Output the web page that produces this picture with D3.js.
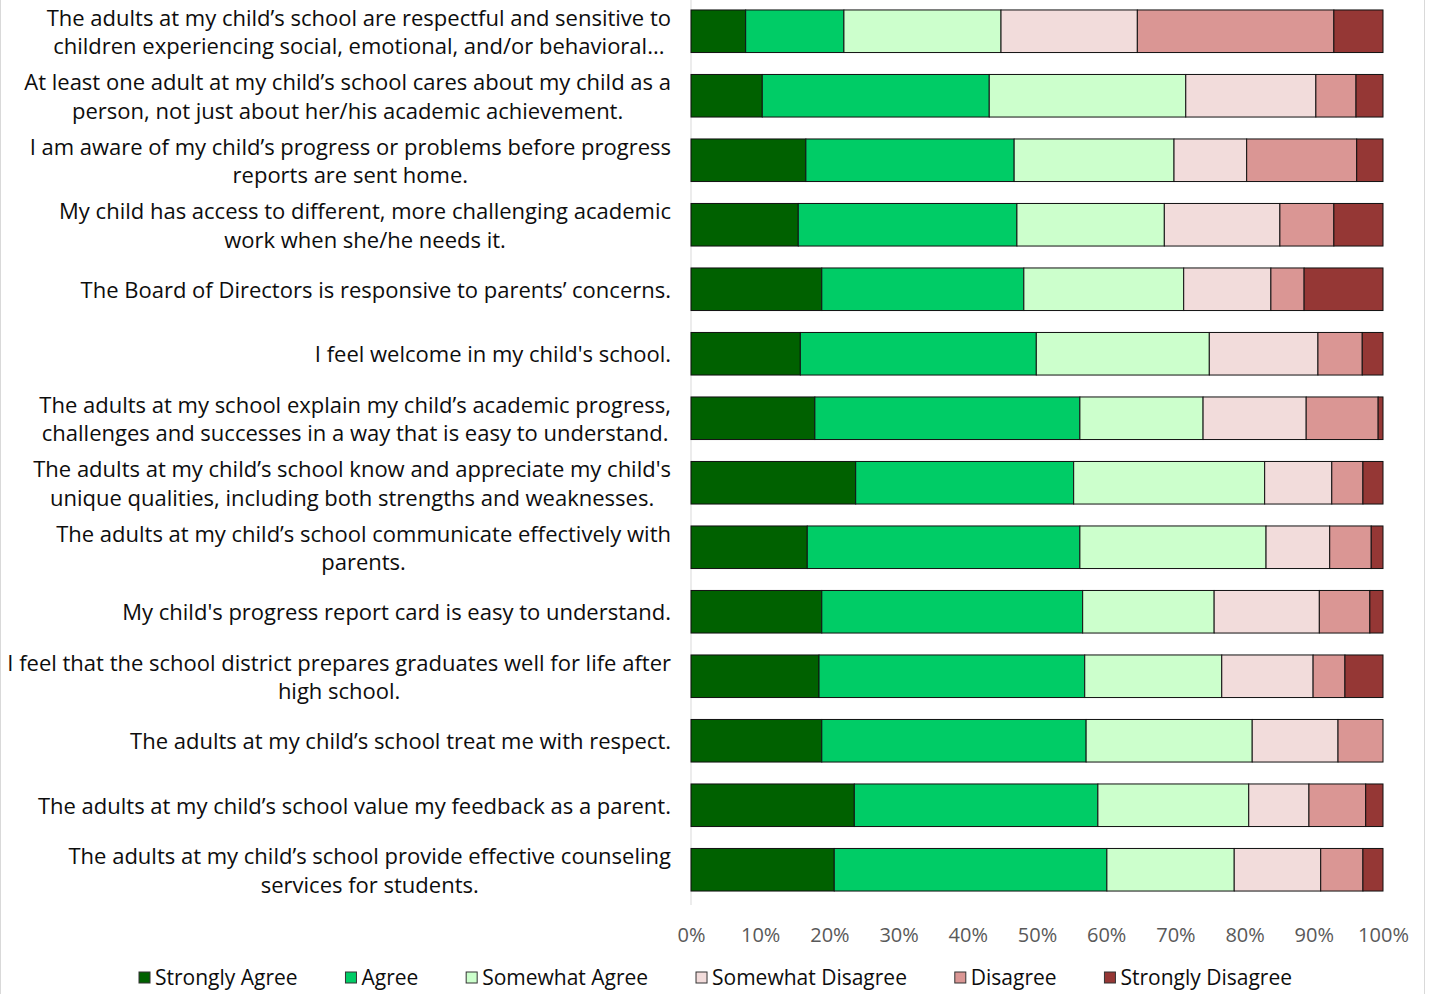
<!DOCTYPE html>
<html>
<head>
<meta charset="utf-8">
<script src="https://cdn.jsdelivr.net/npm/d3@7"></script>
<style>
  body { margin: 0; background: #fff; }
  svg text { font-family: "Open Sans", "DejaVu Sans", sans-serif; }
</style>
</head>
<body>
<svg id="chart" width="1429" height="994"></svg>
<script>
// Survey statements (line breaks as they appear in the chart)
const questions = [
  "The adults at my child\u2019s school are respectful and sensitive to\nchildren experiencing social, emotional, and/or behavioral...",
  "At least one adult at my child\u2019s school cares about my child as a\nperson, not just about her/his academic achievement.",
  "I am aware of my child\u2019s progress or problems before progress\nreports are sent home.",
  "My child has access to different, more challenging academic\nwork when she/he needs it.",
  "The Board of Directors is responsive to parents\u2019 concerns.",
  "I feel welcome in my child's school.",
  "The adults at my school explain my child\u2019s academic progress,\nchallenges and successes in a way that is easy to understand.",
  "The adults at my child\u2019s school know and appreciate my child's\nunique qualities, including both strengths and weaknesses.",
  "The adults at my child\u2019s school communicate effectively with\nparents.",
  "My child's progress report card is easy to understand.",
  "I feel that the school district prepares graduates well for life after\nhigh school.",
  "The adults at my child\u2019s school treat me with respect.",
  "The adults at my child\u2019s school value my feedback as a parent.",
  "The adults at my child\u2019s school provide effective counseling\nservices for students."
];

const responses = ["Strongly Agree", "Agree", "Somewhat Agree", "Somewhat Disagree", "Disagree", "Strongly Disagree"];
const colours = ["#006100", "#00cc66", "#ccffcc", "#f2dcdb", "#da9694", "#953735"];

// Percent of responses per statement, one array per response level
const stronglyAgree    = [7.9, 10.3, 16.6, 15.5, 18.9, 15.8, 17.9, 23.8, 16.8, 18.9, 18.5, 18.9, 23.6, 20.7];
const agree            = [14.2, 32.8, 30.1, 31.6, 29.2, 34.1, 38.3, 31.5, 39.4, 37.7, 38.4, 38.2, 35.2, 39.4];
const somewhatAgree    = [22.7, 28.4, 23.1, 21.3, 23.1, 25.0, 17.8, 27.6, 26.9, 19.0, 19.8, 24.0, 21.8, 18.4];
const somewhatDisagree = [19.7, 18.8, 10.5, 16.7, 12.6, 15.7, 14.9, 9.7, 9.2, 15.2, 13.2, 12.4, 8.7, 12.5];
const disagree         = [28.4, 5.8, 15.9, 7.8, 4.8, 6.4, 10.4, 4.5, 6.0, 7.3, 4.6, 6.5, 8.2, 6.1];
const stronglyDisagree = [7.1, 3.9, 3.8, 7.1, 11.4, 3.0, 0.7, 2.9, 1.7, 1.9, 5.5, 0.0, 2.5, 2.9];

const xTicks = [0, 10, 20, 30, 40, 50, 60, 70, 80, 90, 100];

// -- Build table -- //
const seriesValues = [stronglyAgree, agree, somewhatAgree, somewhatDisagree, disagree, stronglyDisagree];
const table = questions.map((q, i) => {
  let row = { question: q };
  responses.forEach((r, j) => row[r] = seriesValues[j][i]);
  return row;
});
const stacked = d3.stack().keys(responses)
  .offset(d3.stackOffsetExpand)(table);

// -- Layout -- //
const svg = d3.select("#chart");
const x = d3.scaleLinear().domain([0, 1]).range([691, 1383]);
const y = d3.scaleBand().domain(questions).range([-1, 902])
  .paddingInner(0.34).paddingOuter(0.17);
const colour = d3.scaleOrdinal().domain(responses).range(colours);

// Outer frame
svg.append("rect")
  .attr("x", 0.5).attr("y", -1).attr("width", 1424).attr("height", 1000)
  .attr("fill", "none").attr("stroke", "#d9d9d9");

// Vertical axis line
svg.append("line")
  .attr("x1", x(0)).attr("x2", x(0)).attr("y1", 0).attr("y2", 905)
  .attr("stroke", "#d9d9d9").attr("stroke-width", 1);

// Bars
svg.append("g").selectAll("g")
  .data(stacked)
  .join("g")
    .attr("fill", d => colour(d.key))
  .selectAll("rect")
  .data(d => d.filter(s => s[1] - s[0] > 0))
  .join("rect")
    .attr("x", d => x(d[0]))
    .attr("y", d => y(d.data.question))
    .attr("width", d => x(d[1]) - x(d[0]))
    .attr("height", y.bandwidth())
    .attr("stroke", "#111")
    .attr("stroke-width", 1);

// Category labels: lines centred on each other, widest line ends at 671
const labelGroup = svg.append("g");
questions.forEach(q => {
  let lines = q.split("\n");
  let g = labelGroup.append("g");
  let cy = y(q) + y.bandwidth() / 2 + 1;
  let texts = lines.map((ln, k) => g.append("text")
    .text(ln)
    .attr("font-size", 22)
    .attr("fill", "#0d0d0d")
    .attr("text-anchor", "middle")
    .attr("dy", "0.35em")
    .attr("y", cy + (k - (lines.length - 1) / 2) * 28.5));
  let w = d3.max(texts, t => t.node().getComputedTextLength());
  texts.forEach(t => t.attr("x", 671 - w / 2));
});

// X axis
const xAxis = d3.axisBottom(x)
  .tickValues(xTicks.map(v => v / 100))
  .tickFormat(d => Math.round(d * 100) + "%")
  .tickSize(0).tickPadding(0);
const axisG = svg.append("g")
  .attr("transform", "translate(0, 935)")
  .call(xAxis);
axisG.select(".domain").remove();
axisG.selectAll("text")
  .attr("font-size", 20)
  .attr("fill", "#595959")
  .attr("dy", "0.35em")
  .attr("font-family", "'Open Sans', sans-serif");

// Legend
const legend = svg.append("g").attr("transform", "translate(0, 978)");
const items = legend.selectAll("g").data(responses).join("g");
items.append("rect")
  .attr("x", 0).attr("y", -6).attr("width", 11).attr("height", 11)
  .attr("fill", d => colour(d)).attr("stroke", "#333").attr("stroke-width", 1);
items.append("text")
  .text(d => d)
  .attr("x", 16).attr("dy", "0.35em")
  .attr("font-size", 21).attr("fill", "#0d0d0d");
let widths = items.nodes().map(n => d3.select(n).select("text").node().getComputedTextLength() + 16);
let gap = (1292 - 139 - d3.sum(widths)) / (responses.length - 1);
let pos = 139;
items.each(function(d, i) {
  d3.select(this).attr("transform", `translate(${pos}, 0)`);
  pos += widths[i] + gap;
});
</script>
</body>
</html>
